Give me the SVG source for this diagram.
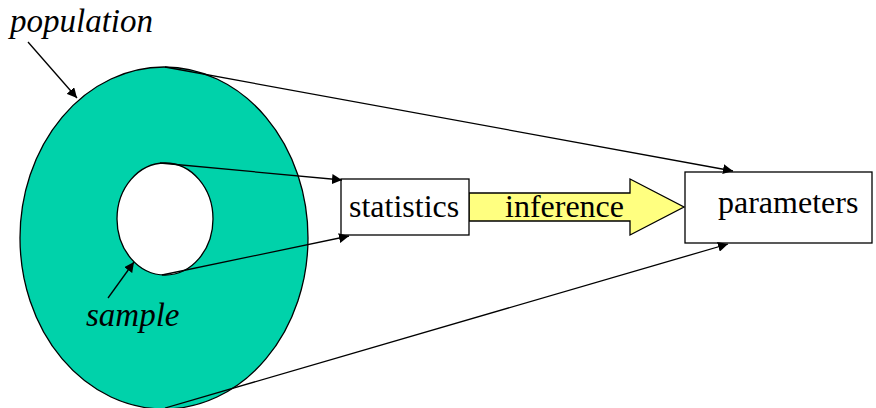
<svg xmlns="http://www.w3.org/2000/svg" width="876" height="408" viewBox="0 0 876 408">
<style>
.t{font-family:"Liberation Serif","Times New Roman",serif;font-size:32px;fill:#000}
.i{font-style:italic;font-size:33px}
.ln{stroke:#000;stroke-width:1.3;fill:none}
</style>
<defs>
<marker id="ah" viewBox="0 0 10 10" refX="10" refY="5" markerWidth="10" markerHeight="10" markerUnits="userSpaceOnUse" orient="auto">
<path d="M0,0 L10,5 L0,10 z" fill="#000"/>
</marker>
</defs>
<rect width="876" height="408" fill="#fff"/>
<g id="population">
<ellipse cx="164" cy="238" rx="144" ry="171" fill="#00D2AA" stroke="#000" stroke-width="1.3"/>
<text class="t i" x="10" y="32">population</text>
</g>
<g id="sample">
<ellipse cx="165" cy="219" rx="48" ry="56" fill="#fff" stroke="#000" stroke-width="1.3"/>
<text class="t i" x="86" y="326">sample</text>
</g>
<g id="inference">
<path d="M469,193 L630,193 L630,179 L684,207 L630,235 L630,221 L469,221 z" fill="#FFFF80" stroke="#000" stroke-width="1.3"/>
<text class="t" x="505" y="217">inference</text>
</g>
<g id="statistics">
<rect x="341" y="179" width="128" height="56" fill="#fff" stroke="#000" stroke-width="1.3"/>
<text class="t" x="349" y="217">statistics</text>
</g>
<g id="parameters">
<rect x="685" y="172" width="187" height="71" fill="#fff" stroke="#000" stroke-width="1.3"/>
<text class="t" x="718" y="213">parameters</text>
</g>
<g id="connectors">
<line class="ln" x1="28" y1="42" x2="77" y2="98" marker-end="url(#ah)"/>
<line class="ln" x1="108" y1="298" x2="134" y2="262" marker-end="url(#ah)"/>
<line class="ln" x1="165" y1="67" x2="733" y2="171" marker-end="url(#ah)"/>
<line class="ln" x1="160" y1="163" x2="342" y2="180" marker-end="url(#ah)"/>
<line class="ln" x1="162" y1="275" x2="349" y2="236" marker-end="url(#ah)"/>
<line class="ln" x1="165" y1="408" x2="728" y2="244" marker-end="url(#ah)"/>
</g>
</svg>
